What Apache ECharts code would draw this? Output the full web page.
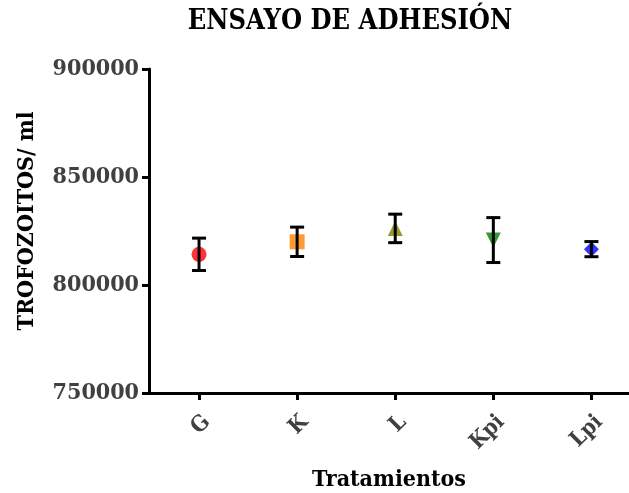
<!DOCTYPE html>
<html><head><meta charset="utf-8">
<script src="https://cdn.jsdelivr.net/npm/echarts@6/dist/echarts.min.js"></script>
<style>html,body{margin:0;padding:0;background:#fff}#c{width:629px;height:493px}</style>
</head><body><div id="c"></div>
<script>
const categories = ['G','K','L','Kpi','Lpi'];
const means = [814200, 820000, 826200, 820800, 816600];
const errors = [7500, 6800, 6600, 10400, 3500];
const markerSymbols = ['circle','rect','triangle','path://M0,0 L10,0 L5,9 Z','diamond'];
const markerColors = ['#ff0000','#ff8000','#808000','#007f00','#0000ff'];
const yTicks = [750000, 800000, 850000, 900000];

const FONT = '"DejaVu Serif Condensed","DejaVu Serif",serif';
const chart = echarts.init(document.getElementById('c'));
const idx = categories.map((c,i)=>i);
const errData = categories.map((c,i)=>[i, means[i]-errors[i], means[i]+errors[i]]);
chart.setOption({
  animation:false,
  title:{text:'ENSAYO DE ADHESIÓN',left:345,textAlign:'center',top:3,
    textStyle:{fontFamily:FONT,fontWeight:'bold',fontSize:27,color:'#000'}},
  grid:{left:149,top:69,right:0,height:324,outerBoundsMode:'none',containLabel:false},
  xAxis:{type:'value',min:-0.51,max:4.383,
    name:'Tratamientos',nameLocation:'middle',nameGap:76,
    nameTextStyle:{fontFamily:FONT,fontWeight:'bold',fontSize:23,color:'#000'},
    axisLine:{onZero:false,lineStyle:{color:'#000',width:3}},
    axisTick:{show:true,customValues:idx,length:7,lineStyle:{color:'#000',width:3}},
    axisLabel:{customValues:idx,rotate:45,margin:18,verticalAlign:'top',fontFamily:FONT,fontWeight:'bold',fontSize:22,color:'#404040',
      formatter:v=>categories[Math.round(v)]},
    splitLine:{show:false}},
  yAxis:{type:'value',min:yTicks[0],max:yTicks[yTicks.length-1],interval:50000,
    name:'TROFOZOITOS/ ml',nameLocation:'middle',nameGap:110,
    nameTextStyle:{fontFamily:FONT,fontWeight:'bold',fontSize:23,color:'#000',padding:[0,0,0,20]},
    axisLine:{show:true,onZero:false,lineStyle:{color:'#000',width:3}},
    axisTick:{show:true,length:7,lineStyle:{color:'#000',width:3}},
    axisLabel:{margin:10,fontFamily:FONT,fontWeight:'bold',fontSize:23,color:'#404040',formatter:v=>String(v)},
    splitLine:{show:false}},
  series:[
    {type:'scatter',data:means.map((v,i)=>({value:[i,v],symbol:markerSymbols[i],itemStyle:{color:markerColors[i]}})),
     symbolSize:15,z:2},
    {type:'custom',z:3,data:errData,
     renderItem:function(params,api){
       const x=api.value(0);
       const lo=api.coord([x,api.value(1)]);
       const hi=api.coord([x,api.value(2)]);
       const hw=7;
       const st={stroke:'#000',lineWidth:3};
       return {type:'group',children:[
         {type:'line',shape:{x1:lo[0],y1:lo[1],x2:hi[0],y2:hi[1]},style:st},
         {type:'line',shape:{x1:lo[0]-hw,y1:lo[1],x2:lo[0]+hw,y2:lo[1]},style:st},
         {type:'line',shape:{x1:hi[0]-hw,y1:hi[1],x2:hi[0]+hw,y2:hi[1]},style:st}
       ]};
     }}
  ]
});
</script></body></html>
